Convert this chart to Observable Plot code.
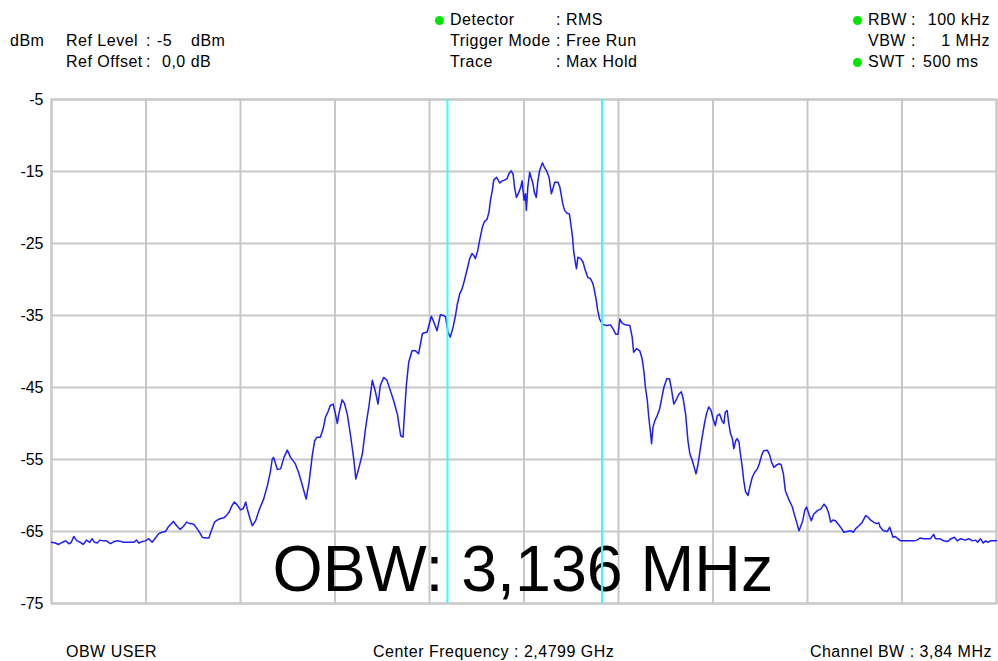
<!DOCTYPE html>
<html><head><meta charset="utf-8">
<script src="https://cdn.jsdelivr.net/npm/d3@7"></script>
<script src="https://cdn.jsdelivr.net/npm/@observablehq/plot@0.6"></script>
<style>
body{margin:0;background:#fff;}
#wrap{position:relative;width:998px;height:661px;overflow:hidden;font-family:"Liberation Sans",Arial,sans-serif;font-size:16px;color:#000;background:#fff;}
#wrap svg{position:absolute;left:0;top:0;}
.t{position:absolute;white-space:pre;line-height:1;letter-spacing:0.5px;}
.dot{position:absolute;width:9px;height:9px;border-radius:50%;background:#00e600;}
</style></head><body><div id="wrap"></div>
<script>
// Frequency offset from center (MHz), span 20 MHz
const freqMHz = [-10.00,-9.92,-9.85,-9.77,-9.70,-9.63,-9.58,-9.53,-9.46,-9.39,-9.33,-9.26,-9.19,-9.14,-9.09,-9.03,-8.98,-8.91,-8.84,-8.75,-8.68,-8.58,-8.47,-8.36,-8.26,-8.20,-8.15,-8.08,-8.01,-7.94,-7.87,-7.80,-7.73,-7.66,-7.59,-7.52,-7.42,-7.35,-7.28,-7.21,-7.14,-7.07,-6.99,-6.92,-6.85,-6.81,-6.74,-6.67,-6.60,-6.55,-6.49,-6.42,-6.35,-6.30,-6.24,-6.18,-6.13,-6.07,-6.00,-5.94,-5.89,-5.86,-5.80,-5.75,-5.68,-5.61,-5.58,-5.51,-5.43,-5.37,-5.33,-5.30,-5.22,-5.15,-5.08,-5.01,-4.94,-4.84,-4.77,-4.69,-4.61,-4.55,-4.48,-4.43,-4.38,-4.31,-4.25,-4.20,-4.15,-4.10,-4.04,-3.99,-3.95,-3.92,-3.85,-3.80,-3.74,-3.67,-3.60,-3.56,-3.50,-3.42,-3.35,-3.28,-3.21,-3.14,-3.09,-3.04,-2.97,-2.90,-2.83,-2.76,-2.68,-2.61,-2.56,-2.53,-2.49,-2.44,-2.37,-2.30,-2.23,-2.15,-2.05,-1.96,-1.91,-1.84,-1.77,-1.70,-1.66,-1.61,-1.56,-1.50,-1.45,-1.41,-1.36,-1.31,-1.26,-1.20,-1.15,-1.10,-1.06,-1.03,-0.98,-0.94,-0.88,-0.84,-0.78,-0.74,-0.71,-0.67,-0.64,-0.58,-0.51,-0.46,-0.41,-0.36,-0.32,-0.27,-0.23,-0.20,-0.16,-0.11,-0.07,-0.04,0.00,0.03,0.05,0.08,0.12,0.15,0.19,0.22,0.26,0.29,0.33,0.39,0.43,0.49,0.53,0.58,0.62,0.65,0.72,0.76,0.79,0.82,0.86,0.91,0.96,1.00,1.03,1.05,1.09,1.11,1.14,1.20,1.25,1.30,1.35,1.41,1.46,1.49,1.53,1.56,1.60,1.66,1.69,1.76,1.83,1.89,1.94,1.99,2.03,2.08,2.15,2.24,2.29,2.32,2.38,2.45,2.50,2.54,2.57,2.61,2.64,2.68,2.70,2.73,2.77,2.82,2.87,2.92,2.96,3.02,3.08,3.12,3.17,3.23,3.28,3.33,3.37,3.42,3.47,3.51,3.56,3.59,3.64,3.68,3.72,3.77,3.82,3.86,3.91,3.96,4.00,4.05,4.09,4.14,4.19,4.23,4.26,4.30,4.33,4.37,4.41,4.44,4.48,4.51,4.55,4.58,4.62,4.65,4.69,4.74,4.78,4.83,4.88,4.94,4.98,5.03,5.07,5.15,5.20,5.24,5.29,5.34,5.39,5.44,5.49,5.53,5.60,5.68,5.72,5.77,5.82,5.85,5.90,5.94,5.98,6.03,6.08,6.13,6.21,6.28,6.35,6.40,6.45,6.49,6.54,6.59,6.64,6.70,6.77,6.84,6.91,6.97,7.02,7.09,7.16,7.23,7.28,7.33,7.40,7.46,7.51,7.54,7.61,7.69,7.74,7.78,7.81,7.86,7.91,7.97,8.11,8.25,8.32,8.38,8.46,8.60,8.67,8.71,8.80,8.88,8.96,9.04,9.11,9.17,9.24,9.34,9.41,9.49,9.56,9.60,9.66,9.72,9.77,9.82,9.87,10.00];
// Trace level (dBm), Max Hold
const levelDbm = [-66.5,-66.6,-66.8,-66.5,-66.3,-66.7,-66.5,-65.7,-66.3,-66.5,-66.8,-66.2,-66.5,-66.0,-66.5,-66.6,-66.2,-66.3,-66.3,-66.7,-66.4,-66.3,-66.5,-66.5,-66.5,-66.2,-66.6,-66.4,-66.3,-66.0,-66.5,-65.9,-65.3,-65.1,-65.0,-64.3,-63.6,-64.2,-64.7,-64.3,-63.7,-63.9,-64.0,-64.6,-65.3,-65.8,-65.9,-65.9,-64.6,-63.7,-63.4,-63.2,-63.1,-62.8,-62.3,-61.4,-60.9,-61.3,-62.0,-61.8,-60.9,-61.8,-63.2,-64.2,-63.5,-62.1,-61.6,-60.5,-58.6,-56.8,-55.0,-54.7,-56.4,-56.3,-54.7,-53.7,-54.7,-55.6,-56.8,-58.6,-60.5,-58.2,-54.4,-52.4,-51.9,-51.9,-50.7,-49.1,-48.4,-47.5,-47.3,-48.7,-50.0,-48.7,-46.7,-47.2,-48.7,-51.7,-55.1,-57.7,-56.3,-54.2,-50.5,-47.5,-44.0,-45.7,-47.3,-44.7,-43.6,-44.0,-45.4,-46.8,-48.7,-51.7,-51.9,-48.7,-44.7,-41.5,-39.9,-39.9,-40.3,-37.5,-37.3,-35.1,-35.9,-37.1,-34.9,-35.0,-35.2,-37.3,-38.0,-36.6,-35.0,-33.4,-32.0,-31.3,-30.1,-28.5,-27.1,-26.4,-26.7,-27.1,-26.0,-24.6,-22.7,-22.0,-21.6,-20.6,-19.0,-17.6,-16.2,-15.8,-16.6,-16.3,-16.2,-16.0,-15.3,-14.9,-15.4,-17.2,-18.6,-17.9,-17.2,-16.3,-19.0,-18.1,-20.4,-17.2,-15.1,-15.8,-16.7,-17.9,-18.6,-16.5,-14.9,-13.8,-14.4,-15.1,-15.8,-18.1,-17.2,-16.5,-16.5,-17.2,-18.3,-19.5,-20.4,-20.8,-20.9,-22.7,-24.3,-26.0,-27.8,-28.5,-26.9,-27.1,-27.6,-28.8,-29.7,-29.9,-30.6,-31.5,-32.9,-34.3,-35.5,-36.2,-36.3,-36.4,-36.3,-36.9,-37.6,-37.6,-35.5,-36.1,-36.3,-36.4,-38.0,-40.1,-39.6,-39.9,-41.0,-42.9,-45.0,-46.8,-49.1,-51.4,-52.8,-50.5,-49.6,-48.9,-48.0,-46.3,-45.0,-43.8,-43.8,-45.2,-47.3,-46.6,-45.9,-45.6,-46.6,-48.7,-52.4,-54.2,-55.1,-55.8,-57.0,-55.8,-54.0,-51.9,-50.0,-48.7,-47.7,-48.2,-49.3,-50.3,-48.9,-48.7,-49.6,-50.0,-48.4,-48.2,-49.8,-51.4,-52.1,-53.5,-52.4,-52.1,-52.6,-54.2,-56.1,-57.9,-59.5,-60.0,-58.8,-57.5,-56.8,-56.3,-55.6,-54.4,-53.8,-53.7,-54.4,-55.4,-56.1,-55.8,-55.6,-55.7,-57.0,-59.3,-60.5,-61.6,-62.6,-63.7,-64.9,-64.4,-63.5,-62.1,-61.6,-62.6,-63.5,-62.6,-62.1,-61.9,-61.2,-61.6,-62.5,-63.7,-63.4,-63.5,-63.9,-64.4,-65.1,-65.0,-64.9,-65.1,-64.6,-64.2,-63.7,-62.8,-63.0,-63.4,-63.7,-63.9,-63.8,-64.4,-64.9,-65.0,-64.4,-65.2,-65.8,-65.7,-66.0,-66.3,-66.3,-66.3,-66.2,-65.9,-66.0,-66.0,-65.4,-66.0,-66.0,-66.3,-66.4,-66.0,-65.8,-66.3,-66.0,-66.2,-66.0,-66.3,-66.2,-66.5,-66.0,-66.6,-66.3,-66.5,-66.3,-66.3];
// OBW marker positions (MHz offset)
const obwMarkers = [-1.62, 1.65];
const yTicks = [-5, -15, -25, -35, -45, -55, -65, -75];
const xGrid = [-10, -8, -6, -4, -2, 0, 2, 4, 6, 8, 10];
const obwLabel = "OBW: 3,136 MHz";

const trace = freqMHz.map((f, i) => ({f, l: levelDbm[i]}));

const plot = Plot.plot({
  width: 998, height: 661,
  marginLeft: 51, marginRight: 2, marginTop: 99, marginBottom: 58,
  style: {fontFamily: "'Liberation Sans', Arial, sans-serif", fontSize: "16px", background: "#fff", color: "#000"},
  x: {domain: [-10, 10], axis: null},
  y: {domain: [-75, -5]},
  marks: [
    Plot.gridX(xGrid, {stroke: "#c8c8c8", strokeOpacity: 1, strokeWidth: 2}),
    Plot.gridY(yTicks, {stroke: "#c8c8c8", strokeOpacity: 1, strokeWidth: 2}),
    Plot.frame({stroke: "#c8c8c8", strokeWidth: 2}),
    Plot.axisY({ticks: yTicks, tickSize: 0, tickPadding: 8, tickFormat: d => String(d), fontSize: 16, label: null}),
    Plot.text([obwLabel], {frameAnchor: "bottom-left", dx: 221, dy: -13, lineAnchor: "bottom", textAnchor: "start", fontSize: 64.5, fill: "#000"}),
    Plot.line(trace, {x: "f", y: "l", stroke: "#1c1cff", strokeWidth: 1.5}),
    Plot.ruleX(obwMarkers, {stroke: "#30ffff", strokeWidth: 2})
  ]
});
const wrap = document.getElementById("wrap");
wrap.appendChild(plot);

function addText(txt, left, baseline, opts = {}) {
  const d = document.createElement("div");
  d.className = "t";
  d.textContent = txt;
  d.style.top = (baseline - 13.5) + "px";
  if (opts.right != null) { d.style.right = (998 - opts.right) + "px"; }
  else d.style.left = left + "px";
  wrap.appendChild(d);
}
function addDot(cx, cy) {
  const d = document.createElement("div");
  d.className = "dot";
  d.style.left = (cx - 4.5) + "px";
  d.style.top = (cy - 4.5) + "px";
  wrap.appendChild(d);
}
// header left
addText("dBm", 10, 46);
addText("Ref Level", 66, 46);
addText(":", 146, 46);
addText("-5", 157, 46);
addText("dBm", 191, 46);
addText("Ref Offset", 66, 67);
addText(":", 146, 67);
addText("0,0 dB", 162, 67);
// header middle
addDot(439, 20);
addText("Detector", 450, 25);
addText(": RMS", 556, 25);
addText("Trigger Mode", 450, 46);
addText(": Free Run", 556, 46);
addText("Trace", 450, 67);
addText(": Max Hold", 556, 67);
// header right
addDot(857, 20);
addText("RBW", 868, 25);
addText(":", 911, 25);
addText("100 kHz", 0, 25, {right: 990});
addText("VBW", 868, 46);
addText(":", 911, 46);
addText("1 MHz", 0, 46, {right: 990});
addDot(857, 62);
addText("SWT", 868, 67);
addText(":", 911, 67);
addText("500 ms", 923, 67);
// footer
addText("OBW USER", 66, 657);
addText("Center Frequency : 2,4799 GHz", 373, 657);
addText("Channel BW : 3,84 MHz", 0, 657, {right: 992});
</script></body></html>
